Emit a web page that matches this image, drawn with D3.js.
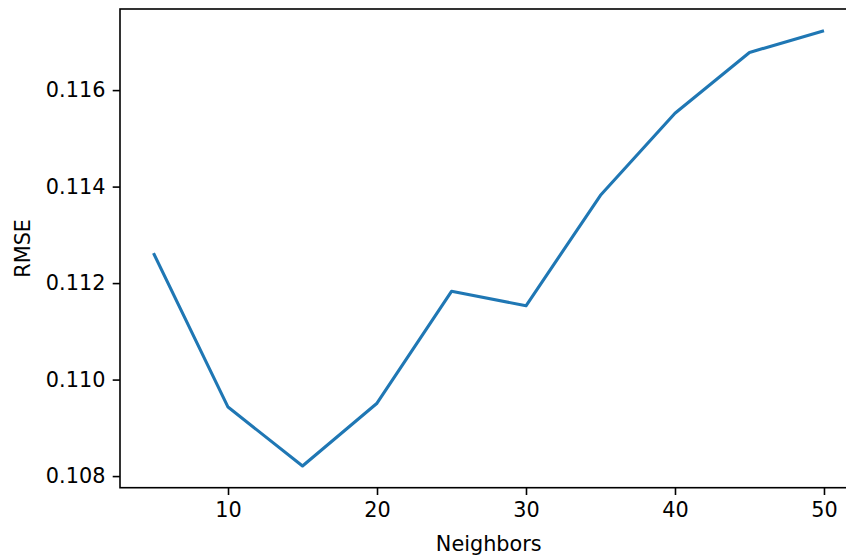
<!DOCTYPE html>
<html>
<head>
<meta charset="utf-8">
<script src="https://cdn.jsdelivr.net/npm/d3@7"></script>
<style>
  body { margin: 0; background: #fff; }
  text { font-family: "DejaVu Sans", sans-serif; fill: #000; }
</style>
</head>
<body>
<div id="chart-area"></div>
<script>
// data
var neighbors = [5, 10, 15, 20, 25, 30, 35, 40, 45, 50];
var rmse = [0.11262, 0.10943, 0.10821, 0.10951, 0.11183, 0.11153, 0.11382, 0.11552, 0.11678, 0.11723];
var xTicks = [10, 20, 30, 40, 50];
var yTicks = [0.108, 0.110, 0.112, 0.114, 0.116];

var W = 846, H = 555;
var margin = {left: 120, top: 9, right: -11.5, bottom: 67.3};
var width = W - margin.left - margin.right;
var height = H - margin.top - margin.bottom;
var fontSize = "20.8px";

var svg = d3.select("#chart-area").append("svg")
    .attr("width", W)
    .attr("height", H);

var g = svg.append("g")
    .attr("transform", "translate(" + margin.left + "," + margin.top + ")");

// matplotlib style 5% margins
var xMin = d3.min(neighbors), xMax = d3.max(neighbors);
var xPad = (xMax - xMin) * 0.05;
var yMin = d3.min(rmse), yMax = d3.max(rmse);
var yPad = (yMax - yMin) * 0.05;

var x = d3.scaleLinear()
    .domain([xMin - xPad, xMax + xPad])
    .range([0, width]);

var y = d3.scaleLinear()
    .domain([yMin - yPad, yMax + yPad])
    .range([height, 0]);

// x axis
var xAxis = d3.axisBottom(x)
    .tickValues(xTicks)
    .tickSize(7.3)
    .tickPadding(7.3)
    .tickSizeOuter(0);
var gx = g.append("g")
    .attr("transform", "translate(0," + height + ")")
    .call(xAxis);
gx.select(".domain").remove();
gx.selectAll("line").attr("stroke", "#000").attr("stroke-width", 1.6);
gx.selectAll("text").attr("font-size", fontSize).attr("font-family", "DejaVu Sans");

// y axis
var yAxis = d3.axisLeft(y)
    .tickValues(yTicks)
    .tickFormat(d3.format(".3f"))
    .tickSize(7.3)
    .tickPadding(7.3)
    .tickSizeOuter(0);
var gy = g.append("g").call(yAxis);
gy.select(".domain").remove();
gy.selectAll("line").attr("stroke", "#000").attr("stroke-width", 1.6);
gy.selectAll("text").attr("font-size", fontSize).attr("font-family", "DejaVu Sans");

// line
var line = d3.line()
    .x(function(d, i) { return x(neighbors[i]); })
    .y(function(d) { return y(d); });

g.append("path")
    .datum(rmse)
    .attr("fill", "none")
    .attr("stroke", "#1f77b4")
    .attr("stroke-width", 3.1)
    .attr("stroke-linejoin", "round")
    .attr("stroke-linecap", "butt")
    .attr("d", line);

// spines
g.append("rect")
    .attr("x", 0)
    .attr("y", 0)
    .attr("width", width)
    .attr("height", height)
    .attr("fill", "none")
    .attr("stroke", "#000")
    .attr("stroke-width", 1.6);

// labels
g.append("text")
    .attr("x", width / 2)
    .attr("y", height + 63)
    .attr("font-size", fontSize)
    .attr("text-anchor", "middle")
    .text("Neighbors");

g.append("text")
    .attr("transform", "translate(" + (-90) + "," + (height / 2) + ") rotate(-90)")
    .attr("font-size", fontSize)
    .attr("text-anchor", "middle")
    .text("RMSE");
</script>
</body>
</html>
